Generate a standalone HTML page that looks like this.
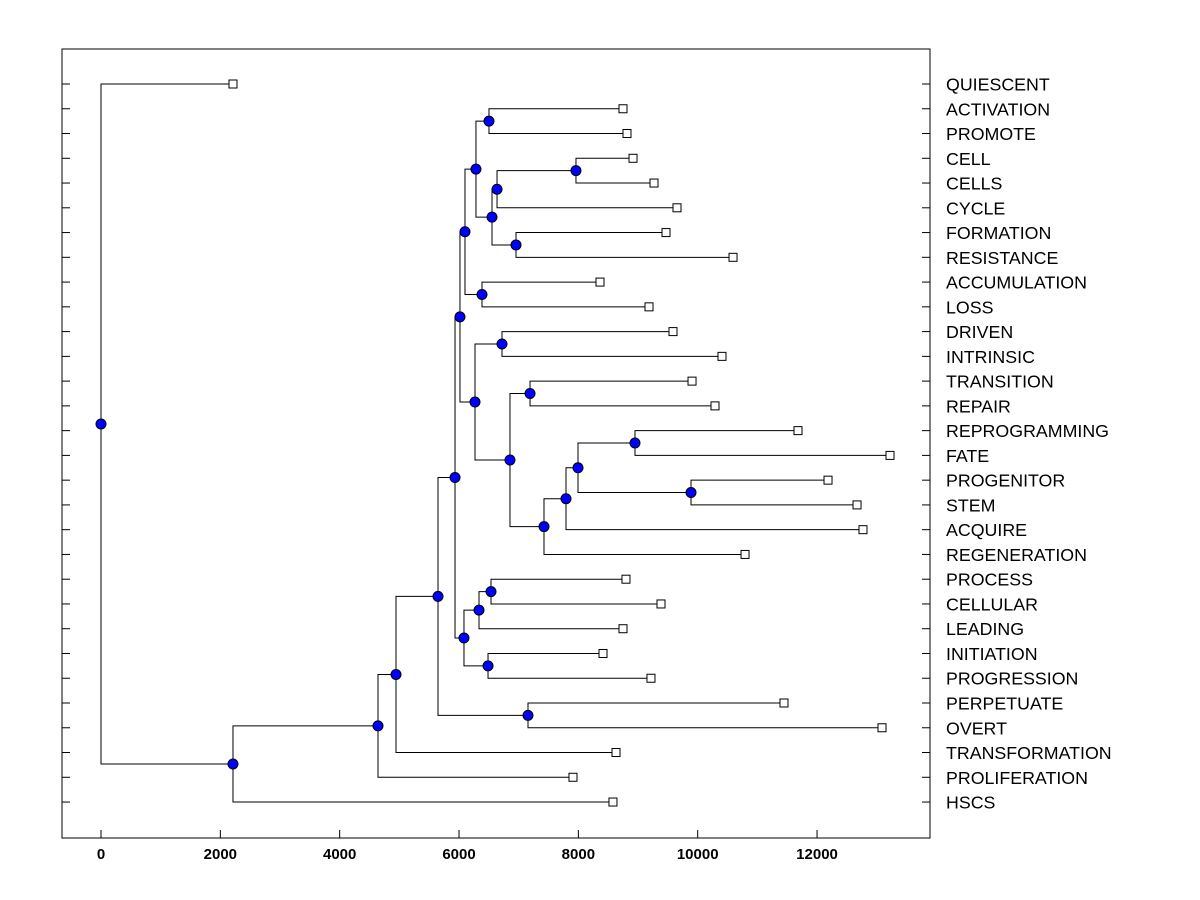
<!DOCTYPE html>
<html><head><meta charset="utf-8"><style>
html,body{margin:0;padding:0;background:#fff;width:1200px;height:900px;overflow:hidden}
svg text{font-family:"Liberation Sans",Arial,sans-serif}
</style></head><body>
<svg id="chart" width="1200" height="900"></svg>
<script>
const labels=["QUIESCENT","ACTIVATION","PROMOTE","CELL","CELLS","CYCLE","FORMATION","RESISTANCE","ACCUMULATION","LOSS","DRIVEN","INTRINSIC","TRANSITION","REPAIR","REPROGRAMMING","FATE","PROGENITOR","STEM","ACQUIRE","REGENERATION","PROCESS","CELLULAR","LEADING","INITIATION","PROGRESSION","PERPETUATE","OVERT","TRANSFORMATION","PROLIFERATION","HSCS"];
const leafValues=[2212,8748,8815,8916,9268,9653,9469,10592,8363,9184,9586,10407,9905,10290,11681,13223,12184,12670,12770,10793,8798,9385,8748,8413,9217,11446,13089,8631,7910,8580];
// merges: [left, right, height]; indices <30 are leaves, >=30 are prior merges (30+k)
const merges=[
[1,2,6502],[3,4,7960],[31,5,6637],[6,7,6955],[32,33,6553],[30,34,6284],[8,9,6385],[35,36,6100],
[10,11,6720],[12,13,7190],[14,15,8949],[16,17,9888],[40,41,7994],[42,18,7793],[43,19,7424],
[39,44,6854],[38,45,6268],[37,46,6016],[20,21,6536],[48,22,6335],[23,24,6486],[49,50,6083],
[47,51,5933],[25,26,7156],[52,53,5648],[54,27,4944],[55,28,4642],[56,29,2212],[0,57,0]
];
const xTicks=[0,2000,4000,6000,8000,10000,12000];

const NS="http://www.w3.org/2000/svg";
const svg=document.getElementById('chart');
const L=62,T=49,R=930,B=838;
const xs=v=>101+v*0.05967;
const ys=i=>84+i*24.76;
function mk(tag,attrs,parent){const e=document.createElementNS(NS,tag);for(const k in attrs)e.setAttribute(k,attrs[k]);(parent||svg).appendChild(e);return e;}

const frame=mk('rect',{x:L,y:T,width:R-L,height:B-T,fill:'none',stroke:'#000','stroke-width':1});



xTicks.forEach(v=>{
  const l=mk('line',{x1:xs(v),x2:xs(v),y1:B,y2:B-8,stroke:'#000'});
  
  
  const t=mk('text',{x:xs(v),y:859,'text-anchor':'middle','font-size':15,'font-weight':'bold'});
  t.textContent=v;
  
  
});

labels.forEach((lab,i)=>{
  const y=ys(i);
  const a=mk('line',{x1:L,x2:L+8,y1:y,y2:y,stroke:'#000'});
  
  
  const b=mk('line',{x1:R-8,x2:R,y1:y,y2:y,stroke:'#000'});
  
  
  const t=mk('text',{x:946,y:y+6.5,'font-size':17.8});
  t.textContent=lab;
  
  
});

const pos=[];
leafValues.forEach((v,i)=>pos.push({x:xs(v),y:ys(i)}));
merges.forEach(m=>{pos.push({x:xs(m[2]),y:(pos[m[0]].y+pos[m[1]].y)/2});});

const g=mk('g',{});


merges.forEach((m,k)=>{
  const p=pos[30+k];
  [m[0],m[1]].forEach(c=>{
    const q=pos[c];
    const pl=mk('polyline',{points:`${p.x},${p.y} ${p.x},${q.y} ${q.x},${q.y}`,fill:'none',stroke:'#000','stroke-width':1},g);
    
    
  });
});
leafValues.forEach((v,i)=>{
  const p=pos[i];
  const r=mk('rect',{x:p.x-4,y:p.y-4,width:8,height:8,fill:'#fff',stroke:'#000'});
  
  
});
merges.forEach((m,k)=>{
  const p=pos[30+k];
  const c=mk('circle',{cx:p.x,cy:p.y,r:5,fill:'#0000ff',stroke:'#000','stroke-width':1});
  
  
});
</script>
</body></html>
